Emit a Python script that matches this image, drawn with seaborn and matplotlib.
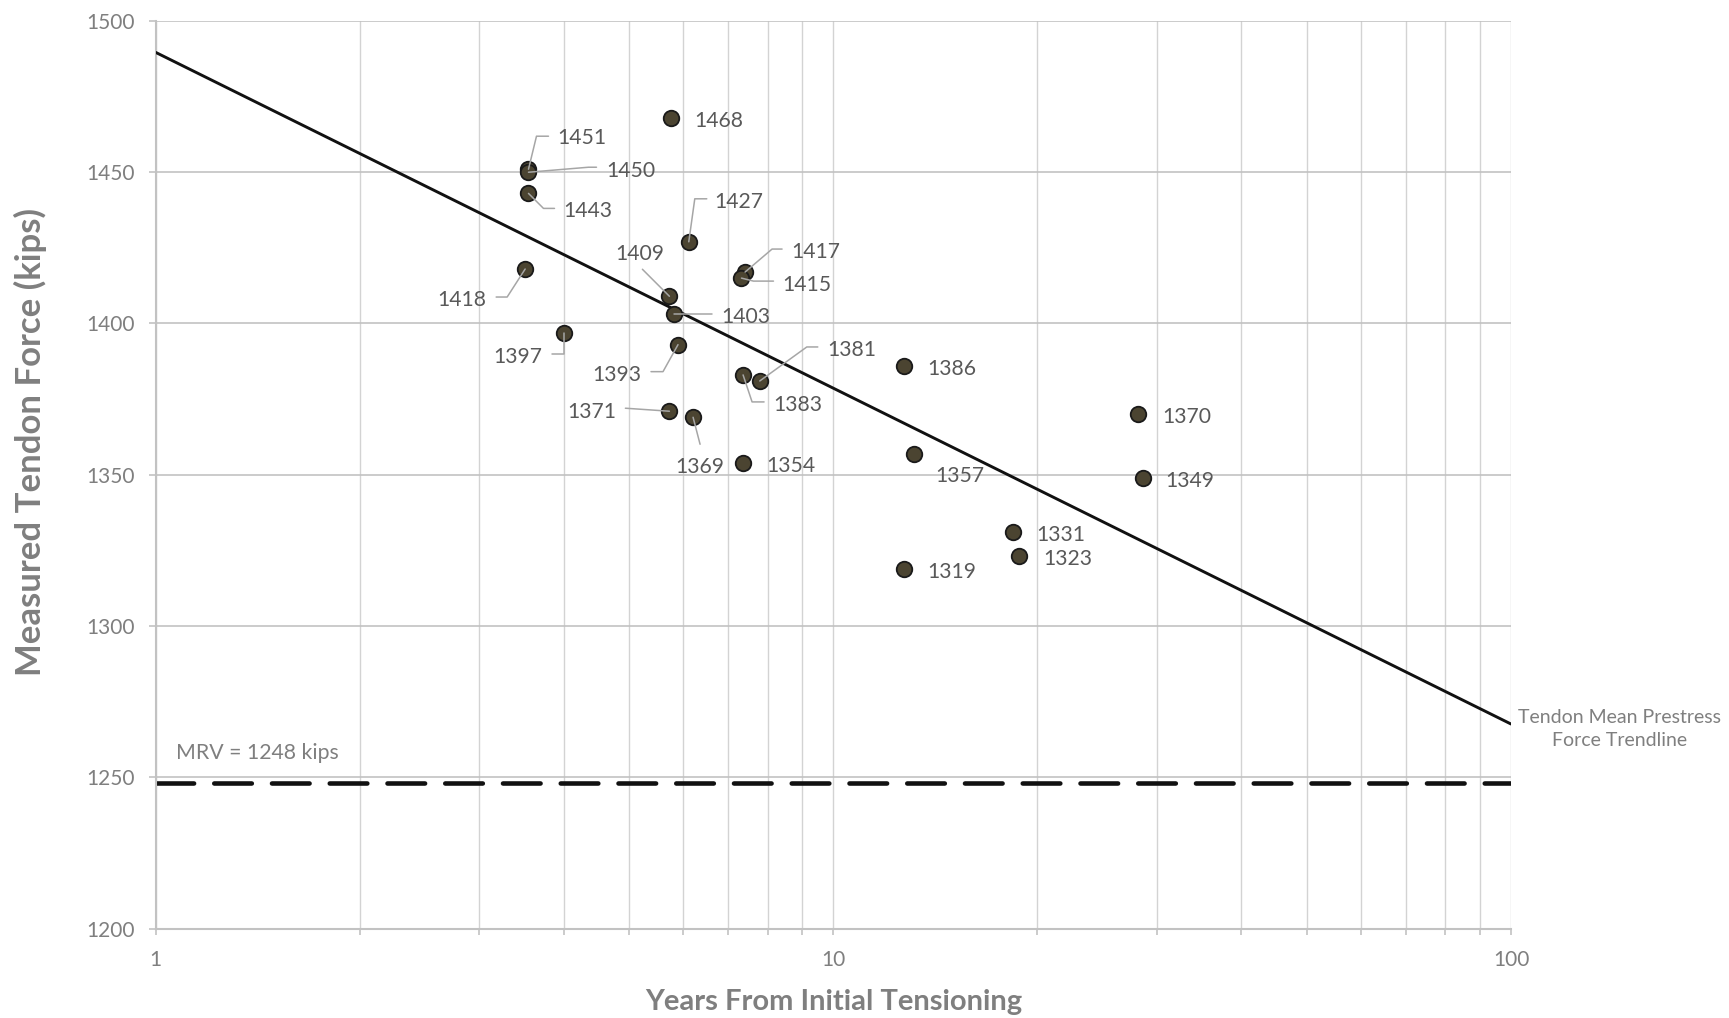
import numpy as np
import matplotlib
matplotlib.use("Agg")
import matplotlib.pyplot as plt
import matplotlib.transforms as mtransforms
from matplotlib.ticker import LogLocator, NullFormatter, FuncFormatter, FixedLocator
import seaborn as sns

# Measured lift-off forces per tendon
years = [3.55, 3.55, 3.55, 3.51, 4.00, 5.77, 5.73, 5.82, 5.90, 5.73, 6.21, 6.12,
         7.41, 7.32, 7.36, 7.79, 7.36, 12.71, 13.15, 12.71, 18.39, 18.81, 28.15, 28.60]
force = [1451, 1450, 1443, 1418, 1397, 1468, 1409, 1403, 1393, 1371, 1369, 1427,
         1417, 1415, 1383, 1381, 1354, 1386, 1357, 1319, 1331, 1323, 1370, 1349]
mrv = 1248
x_ticks = [1, 10, 100]
y_ticks = [1200, 1250, 1300, 1350, 1400, 1450, 1500]

# Data-label placement (pixel offsets from each point, y up) and leader lines
label_dx = [29, 78, 35, -39, -21, 23, -5, 47, -37, -53, 7, 26,
            46, 41, 30, 67, 23, 23, 21, 23, 24, 24, 24, 23]
label_dy = [31, 1, -18, -31, -24, -3, 42, -3, -30, -1, -50, 40,
            20, -7, -30, 31, -3, -3, -22, -3, -3, -3, -3, -3]
label_ha = ["left", "left", "left", "right", "right", "left", "right", "left",
            "right", "right", "center", "left", "left", "left", "left", "left",
            "left", "left", "left", "left", "left", "left", "left", "left"]
leaders = {
    0: [(0, 0), (8, 33), (20, 33)],
    1: [(0, 0), (60, 5), (68, 5)],
    2: [(0, 0), (15, -15), (26, -15)],
    3: [(0, 0), (-18, -28), (-29, -28)],
    4: [(0, 0), (0, -21), (-12, -21)],
    6: [(0, 0), (-27, 27)],
    7: [(0, 0), (38, 0)],
    8: [(0, 0), (-15, -27), (-27, -27)],
    9: [(0, 0), (-44, 3)],
    10: [(0, 0), (7, -27)],
    11: [(0, 0), (6, 43), (18, 43)],
    12: [(0, 0), (27, 23), (37, 23)],
    13: [(0, 0), (12, -3), (32, -3)],
    14: [(0, 0), (9, -27), (21, -27)],
    15: [(0, 0), (47, 34), (58, 34)],
}

DPI = 100
PT = 72.0 / DPI  # points per pixel

sns.set_theme(style="white")
plt.rcParams["font.family"] = ["Lato", "DejaVu Sans"]

fig = plt.figure(figsize=(17.29, 10.18), dpi=DPI)
ax = fig.add_axes([0.0900, 0.0879, 0.7839, 0.8915])

ax.set_xscale("log")
ax.set_xlim(1, 100)
ax.set_ylim(1200, 1500)

# Logarithmic trendline fitted to the measurements
coef = np.polyfit(np.log10(years), force, 1)
trend_x = np.array([1.0, 100.0])
trend_y = np.polyval(coef, np.log10(trend_x))

# Grid and axes styling
ax.xaxis.set_major_locator(FixedLocator(x_ticks))
ax.xaxis.set_major_formatter(FuncFormatter(lambda v, p: f"{v:g}"))
ax.xaxis.set_minor_locator(LogLocator(base=10, subs=np.arange(2, 10)))
ax.xaxis.set_minor_formatter(NullFormatter())
ax.yaxis.set_major_locator(FixedLocator(y_ticks))
ax.grid(True, which="both", axis="x", color="#d3d3d3", lw=1.0)
ax.grid(True, which="major", axis="y", color="#c2c2c2", lw=1.2)
ax.set_axisbelow(True)
for side in ["top", "right"]:
    ax.spines[side].set_visible(False)
for side in ["left", "bottom"]:
    ax.spines[side].set_color("#c2c2c2")
    ax.spines[side].set_linewidth(1.5)
ax.tick_params(axis="x", which="both", bottom=True, length=6 * PT, width=1.2,
               color="#c2c2c2", labelsize=15, labelcolor="#7f7f7f", pad=15 * PT)
ax.tick_params(axis="y", which="major", left=True, length=7 * PT, width=1.2,
               color="#c2c2c2", labelsize=15, labelcolor="#7f7f7f", pad=14 * PT)

# Minimum required value
ax.axhline(mrv, color="#111111", lw=3.3, dashes=(8.2, 4.4), dash_capstyle="round", zorder=2)
ax.annotate(f"MRV = {mrv} kips", xy=(1, mrv), xytext=(20 * PT, 30 * PT),
            textcoords="offset points", ha="left", va="center",
            fontsize=15.3, color="#7f7f7f")

# Trendline
sns.lineplot(x=trend_x, y=trend_y, color="#111111", lw=2.1, ax=ax, zorder=3)
ax.annotate("Tendon Mean Prestress\nForce Trendline", xy=(trend_x[-1], trend_y[-1]),
            xytext=(109 * PT, -5 * PT), textcoords="offset points",
            ha="center", va="center", multialignment="center", linespacing=1.45,
            fontsize=14, color="#7f7f7f", annotation_clip=False, zorder=5,
            bbox=dict(boxstyle="square,pad=0.3", fc="white", ec="none"))

# Measurements
sns.scatterplot(x=years, y=force, s=125, color="#4b4431", edgecolor="#1a1a1a",
                linewidth=1.3, ax=ax, zorder=4, legend=False)

# Leader lines and data labels
to_display = mtransforms.Affine2D().scale(1.0 / DPI) + fig.dpi_scale_trans
for i, (xv, yv) in enumerate(zip(years, force)):
    if i in leaders:
        pts = np.array(leaders[i], dtype=float)
        tr = to_display + mtransforms.ScaledTranslation(xv, yv, ax.transData)
        ax.plot(pts[:, 0], pts[:, 1], color="#a6a6a6", lw=1.1, transform=tr,
                clip_on=False, zorder=5)
    ax.annotate(str(yv), xy=(xv, yv), xytext=(label_dx[i] * PT, label_dy[i] * PT),
                textcoords="offset points", ha=label_ha[i], va="center",
                fontsize=15.2, color="#595959", zorder=6)

ax.set_xlabel("Years From Initial Tensioning", fontsize=21, fontweight="bold",
              color="#7f7f7f", va="center")
ax.set_ylabel("Measured Tendon Force (kips)", fontsize=25, fontweight="bold",
              color="#7f7f7f", va="center")
ax.xaxis.set_label_coords(0.5, -0.0810)
ax.yaxis.set_label_coords(-0.0927, 0.5366)

fig.savefig("out.png", dpi=DPI, facecolor="white")
